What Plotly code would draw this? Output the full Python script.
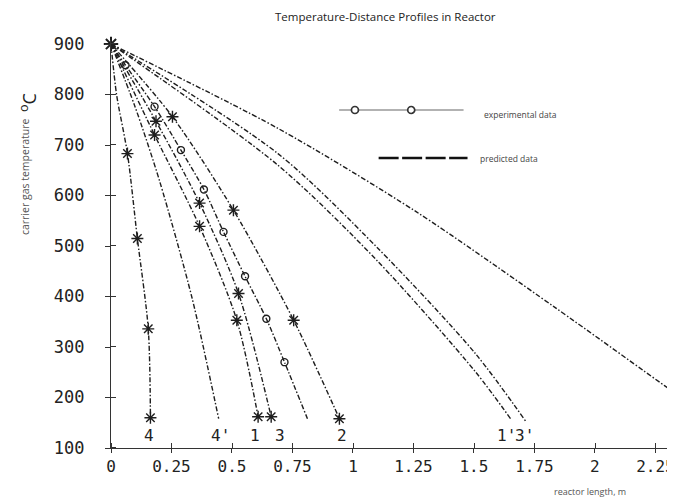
import plotly.graph_objects as go

# ---------------- data ----------------
# curve 4 (stars)
c4_x = [0, 0.023, 0.068, 0.109, 0.154, 0.163]
c4_y = [900, 800, 683, 515, 336, 160]
# curve 4' (predicted, no markers)
c4p_x = [0, 0.1, 0.2, 0.335, 0.445]
c4p_y = [900, 775, 630, 397, 158]
# curve 1 (stars)
c1_x = [0, 0.18, 0.366, 0.52, 0.608]
c1_y = [900, 720, 539, 353, 162]
# curve 3 (stars)
c3_x = [0, 0.186, 0.366, 0.527, 0.662]
c3_y = [900, 747, 585, 406, 162]
# experimental curve (circles)
ce_x = [0, 0.06, 0.18, 0.289, 0.384, 0.465, 0.554, 0.642, 0.717, 0.812]
ce_y = [900, 858, 776, 690, 612, 528, 440, 356, 270, 158]
# curve 2 (stars)
c2_x = [0, 0.254, 0.506, 0.755, 0.944]
c2_y = [900, 756, 571, 353, 158]
# curve 1' (predicted)
c1p_x = [0, 0.69, 1.098, 1.506, 1.656]
c1p_y = [900, 660, 472, 251, 155]
# curve 3' (predicted)
c3p_x = [0, 0.69, 1.098, 1.506, 1.717]
c3p_y = [900, 683, 498, 287, 151]
# long predicted curve
cl_x = [0, 0.69, 1.261, 1.833, 2.286, 2.33]
cl_y = [900, 733, 568, 379, 224, 209]

# curve labels
lab_text = ["4", "4'", "1", "3", "2", "1'", "3'"]
lab_x = [0.159, 0.453, 0.596, 0.697, 0.955, 1.635, 1.71]
lab_y = [125, 125, 125, 125, 125, 125, 125]

x_ticks = [0, 0.25, 0.5, 0.75, 1, 1.25, 1.5, 1.75, 2, 2.25]
x_ticktext = ["0", "0.25", "0.5", "0.75", "1", "1.25", "1.5", "1.75", "2", "2.25"]
y_ticks = [100, 200, 300, 400, 500, 600, 700, 800, 900]

# ---------------- figure ----------------
LINE_COL = "#1e1e1e"
DASH = "5px,2px,1.5px,2px"
MONO = "DejaVu Sans Mono"
SANS = "Open Sans"

fig = go.Figure()


def add_curve(xs, ys, marker_idx=None, symbol="asterisk-open", msize=10):
    fig.add_trace(go.Scatter(
        x=xs, y=ys, mode="lines",
        line=dict(color=LINE_COL, width=1.4, dash=DASH, shape="spline", smoothing=0.8),
        showlegend=False, hoverinfo="skip", cliponaxis=False))
    if marker_idx:
        fig.add_trace(go.Scatter(
            x=[xs[i] for i in marker_idx], y=[ys[i] for i in marker_idx],
            mode="markers",
            marker=dict(symbol=symbol, size=msize, color=LINE_COL,
                        line=dict(color=LINE_COL, width=1.4)),
            showlegend=False, hoverinfo="skip", cliponaxis=False))


add_curve(cl_x, cl_y)
add_curve(c3p_x, c3p_y)
add_curve(c1p_x, c1p_y)
add_curve(c4_x, c4_y, [2, 3, 4, 5])
add_curve(c4p_x, c4p_y)
add_curve(c1_x, c1_y, [1, 2, 3, 4])
add_curve(c3_x, c3_y, [1, 2, 3, 4])
add_curve(ce_x, ce_y, list(range(1, len(ce_x) - 1)), symbol="circle-open", msize=7)
add_curve(c2_x, c2_y, [1, 2, 3, 4])
# common starting point
fig.add_trace(go.Scatter(
    x=[c1_x[0]], y=[c1_y[0]], mode="markers",
    marker=dict(symbol="asterisk-open", size=12, color=LINE_COL,
                line=dict(color=LINE_COL, width=2)),
    showlegend=False, hoverinfo="skip", cliponaxis=False))

# curve labels
for t, x, y in zip(lab_text, lab_x, lab_y):
    fig.add_annotation(x=x, y=y, text=t, showarrow=False, xanchor="center", yanchor="middle",
                       font=dict(family=MONO, size=16, color="#222"))

# page offset (body margin) and plot-area geometry
OFF = 8
W, H = 675, 497
L, R, T, B = 103, 8, 32, 57
PW, PH = W - L - R, H - T - B


def fx(px):  # screen pixel -> paper x
    return (px - OFF - L) / PW


def fy(py):  # screen pixel -> paper y
    return (H - B - (py - OFF)) / PH


def note(px, py, text, size, color="#444", family=SANS, angle=0, xanchor="center"):
    fig.add_annotation(xref="paper", yref="paper", x=fx(px), y=fy(py), text=text,
                       xanchor=xanchor, yanchor="middle", textangle=angle, showarrow=False,
                       font=dict(family=family, size=size, color=color))


note(389, 16.5, "Temperature-Distance Profiles in Reactor", 11.5, "#222")
note(24, 177, "carrier gas temperature", 10.5, "#555", angle=-90)
note(27, 103, "<sup>o</sup>C", 18, "#222", angle=-90)
note(596, 491, "reactor length, m", 9, "#555")

# legend drawing
shapes = [dict(type="line", xref="paper", yref="paper", x0=fx(342), x1=fx(468), y0=fy(110), y1=fy(110),
               line=dict(color="#999", width=1.3))]
for cx in (358, 415):
    shapes.append(dict(type="circle", xref="paper", yref="paper", xsizemode="pixel", ysizemode="pixel",
                       xanchor=fx(cx), yanchor=fy(110), x0=-3.5, x1=3.5, y0=-3.5, y1=3.5,
                       line=dict(color="#333", width=1.7), fillcolor="white"))
shapes.append(dict(type="line", xref="paper", yref="paper", x0=fx(382), x1=fx(472), y0=fy(158), y1=fy(158),
                   line=dict(color="#111", width=2.5, dash="20px,3.5px")))
fig.update_layout(shapes=shapes)
note(487, 114, "experimental data", 8.5, xanchor="left")
note(483, 158, "predicted data", 8.5, xanchor="left")

x_minor = [v + 0.001 for v in x_ticks]
y_minor = [v + 0.4 for v in y_ticks]

fig.update_layout(
    width=W, height=H,
    margin=dict(l=L, r=R, t=T, b=B, pad=0),
    paper_bgcolor="white", plot_bgcolor="white",
    xaxis=dict(range=[0, PW / 245.0], tickvals=x_ticks, ticktext=x_ticktext,
               showgrid=False, zeroline=False, showline=True, linecolor="#333", linewidth=1.3,
               ticks="outside", ticklen=4, tickwidth=1.3, tickcolor="#333",
               minor=dict(tickvals=x_minor, ticks="inside", ticklen=5, tickwidth=1.3, tickcolor="#333"),
               tickfont=dict(family=MONO, size=16, color="#222"), ticklabelstandoff=0),
    yaxis=dict(range=[100, 908], tickvals=y_ticks,
               showgrid=False, zeroline=False, showline=True, linecolor="#333", linewidth=1.3,
               ticks="outside", ticklen=5, tickwidth=1.3, tickcolor="#333",
               minor=dict(tickvals=y_minor, ticks="inside", ticklen=5, tickwidth=1.3, tickcolor="#333"),
               tickfont=dict(family=MONO, size=17, color="#222"), ticklabelstandoff=17),
)

fig.write_html("out.html")
